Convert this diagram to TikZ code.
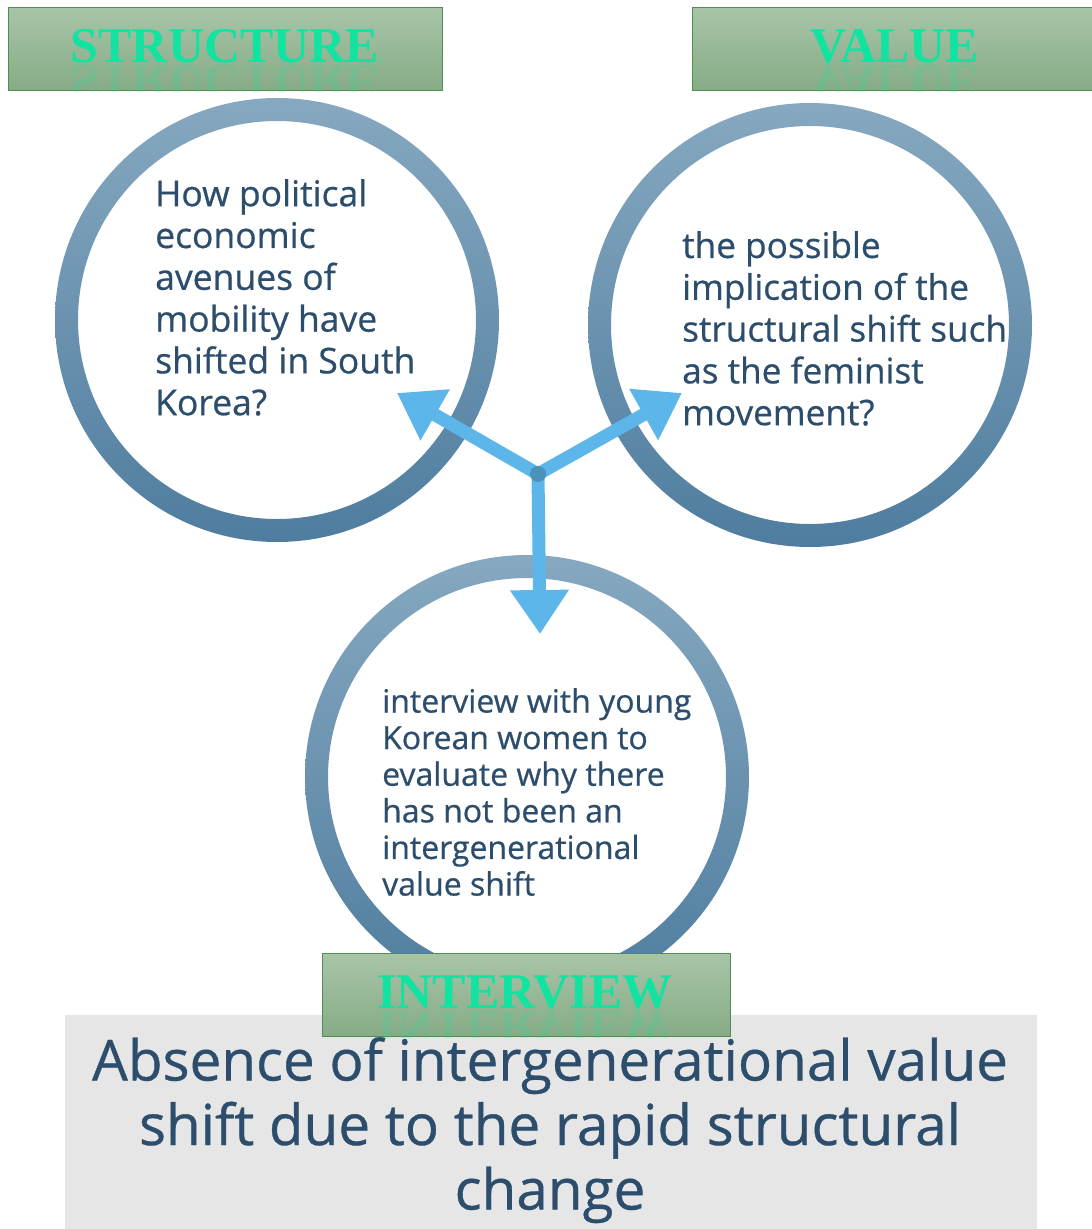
\documentclass[tikz,border=0pt]{standalone}
\usepackage{fontspec}
\setmainfont{Liberation Serif}
\newfontfamily\bodyfont[FakeBold=0.6]{Open Sans}
\usetikzlibrary{arrows.meta}
\definecolor{ringtop}{HTML}{86A8C0}
\definecolor{ringbot}{HTML}{4F7D9F}
\definecolor{arrowblue}{HTML}{5DB6EA}
\definecolor{txtblue}{HTML}{2C4E6C}
\definecolor{boxtop}{HTML}{A8C4A8}
\definecolor{boxbot}{HTML}{86AC86}
\definecolor{boxedge}{HTML}{4E8E4E}
\definecolor{titlegreen}{HTML}{12E3A0}
\definecolor{greybg}{HTML}{E6E6E7}
\tikzset{
  titlebox/.style={draw=boxedge, line width=1.2pt, top color=boxtop, bottom color=boxbot,
    minimum height=83, inner sep=0},
  titletext/.style={inner sep=0, font=\fontsize{50}{56}\selectfont\bfseries, text=titlegreen},
  ringnode/.style={circle, minimum size=444, inner sep=0},
  circtext/.style={anchor=north west, align=left, inner sep=0, text=txtblue},
  arr/.style={draw=arrowblue, line width=13, -{Triangle[length=44,width=56]}}
}
\begin{document}
\begin{tikzpicture}[x=1pt,y=-1pt]
\useasboundingbox (0,0) rectangle (1092,1229);
\fill[white] (0,0) rectangle (1092,1229);
% rings
\shade[even odd rule, top color=ringtop, bottom color=ringbot] (277,320) circle (222) (277,320) circle (199);
\shade[even odd rule, top color=ringtop, bottom color=ringbot] (810,325) circle (222) (810,325) circle (199);
\shade[even odd rule, top color=ringtop, bottom color=ringbot] (527,777) circle (222) (527,777) circle (199);
\node[ringnode] (L) at (277,320) {};
\node[ringnode] (R) at (810,325) {};
\node[ringnode] (B) at (527,777) {};
% arrows
\coordinate (J) at (538,474);
\coordinate (tl) at (397,393);
\coordinate (tr) at (682,393);
\coordinate (tb) at (540,634);
\draw[arr] (J) -- (tl);
\draw[arr] (J) -- (tr);
\draw[arr] (J) -- (tb);
\fill[arrowblue!80!black] (J) circle (8);
% circle texts
\node[circtext, font=\bodyfont\fontsize{35.5}{41.8}\selectfont] (Lt) at (155,179)
  {How political\\economic\\avenues of\\mobility have\\shifted in South\\Korea?};
\node[circtext, font=\bodyfont\fontsize{35.2}{41.8}\selectfont] (Rt) at (682,231)
  {the possible\\implication of the\\structural shift such\\as the feminist\\movement?};
\node[circtext, font=\bodyfont\fontsize{32}{36.6}\selectfont] (Bt) at (382,688)
  {interview with young\\Korean women to\\evaluate why there\\has not been an\\intergenerational\\value shift};
% bottom grey panel
\fill[greybg] (65,1015) rectangle (1037,1229);
\node[align=center, inner sep=0, text=txtblue, font=\bodyfont\fontsize{56.6}{64.5}\selectfont, anchor=north] (conc) at (550,1037)
  {Absence of intergenerational value\\shift due to the rapid structural\\change};
% title boxes
\node[titlebox, minimum width=434, anchor=north west] (S) at (8,7) {};
\node[titlebox, minimum width=420, anchor=north west] (V) at (692,7) {};
\node[titlebox, minimum width=408, anchor=north west] (I) at (322,953) {};
\foreach \b/\t/\x/\y in {S/STRUCTURE/225/62, V/VALUE/895/62, I/INTERVIEW/525/1008}{
  \begin{scope}
    \clip (\b.north west) rectangle (\b.south east);
    \node[titletext, anchor=base] (\b txt) at (\x,\y) {\t};
    \node[titletext, anchor=base, yscale=-1, opacity=0.18] at (\x,\y+3) {\t};
  \end{scope}
}
\end{tikzpicture}
\end{document}
